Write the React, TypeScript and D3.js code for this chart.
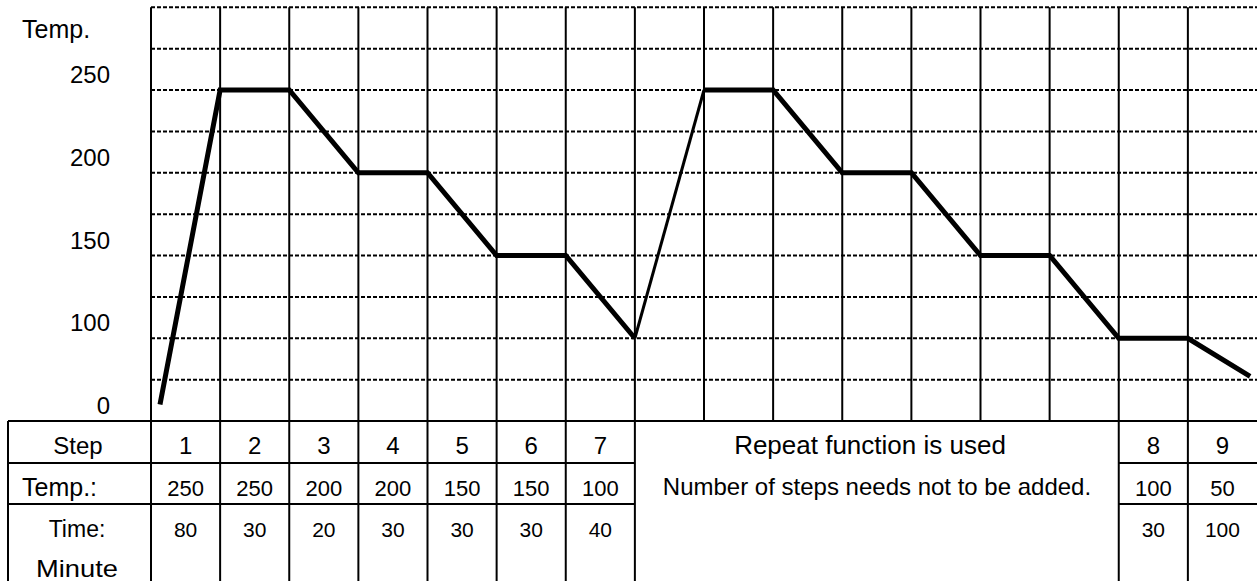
import React from "react";
import * as d3 from "d3";

// ---- data ----
const columnCount = 16;
// profile points: position in grid columns, drawn temperature
const profileCols = [0.13, 1, 2, 3, 4, 5, 6, 7, 8, 9, 10, 11, 12, 13, 14, 15, 15.9];
const profileTemps = [60, 250, 250, 200, 200, 150, 150, 100, 250, 250, 200, 200, 150, 150, 100, 100, 77];
const repeatSegmentStart = 7; // index of point where the thin "repeat" rise starts

const gridTemps = [75, 100, 125, 150, 175, 200, 225, 250, 275, 300];
const tickTemps = [250, 200, 150, 100, 50];
const tickLabels = ["250", "200", "150", "100", "0"];

const stepsLeft = ["1", "2", "3", "4", "5", "6", "7"];
const tempsLeft = ["250", "250", "200", "200", "150", "150", "100"];
const timesLeft = ["80", "30", "20", "30", "30", "30", "40"];
const stepsRight = ["8", "9"];
const tempsRight = ["100", "50"];
const timesRight = ["30", "100"];
const rightStartCol = 14;
const repeatTitle = "Repeat function is used";
const repeatNote = "Number of steps needs not to be added.";
const rowHeaders = ["Step", "Temp.:", "Time:", "Minute"];
const yTitle = "Temp.";

// ---- layout ----
const W = 1257;
const H = 581;
const FONT = "'Liberation Sans', Arial, sans-serif";

export default function App() {
  const x = d3.scaleLinear().domain([0, columnCount]).range([151, 1257]);
  const y = d3.scaleLinear().domain([50, 250]).range([421, 90]);

  const tableTop = y(50);
  const row1 = 463;
  const row2 = 504;
  const tableLeft = 8;

  const pts: [number, number][] = profileCols.map((c, i) => [x(c), y(profileTemps[i])]);
  const line = d3.line<[number, number]>().x((d) => d[0]).y((d) => d[1]);
  const partA = pts.slice(0, repeatSegmentStart + 1);
  const thin = pts.slice(repeatSegmentStart, repeatSegmentStart + 2);
  const partB = pts.slice(repeatSegmentStart + 1);

  const colIdx = d3.range(columnCount + 1);
  const leftCols = stepsLeft.map((_, i) => i);
  const rightCols = stepsRight.map((_, i) => rightStartCol + i);

  const txt = { fontFamily: FONT, fontSize: 23, fill: "#000" } as const;

  const tableVerticals = [0, ...leftCols.map((c) => c + 1), rightStartCol, ...rightCols.map((c) => c + 1)].filter(
    (c) => c < columnCount
  );

  return (
    <div style={{ position: "absolute", left: 0, top: 0 }}>
      <svg width={W} height={H} style={{ display: "block", background: "#fff" }}>
        {/* horizontal dashed grid */}
        {gridTemps.map((t) => (
          <line
            key={"h" + t}
            x1={x(0)}
            x2={x(columnCount)}
            y1={y(t)}
            y2={y(t)}
            stroke="#000"
            strokeWidth={2}
            strokeDasharray="4,2"
          />
        ))}
        {/* vertical grid lines in chart region */}
        {colIdx
          .filter((c) => c < columnCount)
          .map((c) => (
            <line key={"v" + c} x1={x(c)} x2={x(c)} y1={y(300)} y2={tableTop} stroke="#000" strokeWidth={2} />
          ))}
        {/* table lines */}
        <line x1={tableLeft} x2={W} y1={tableTop} y2={tableTop} stroke="#000" strokeWidth={2} />
        {[row1, row2].map((ry) => (
          <g key={"r" + ry}>
            <line x1={tableLeft} x2={x(repeatSegmentStart)} y1={ry} y2={ry} stroke="#000" strokeWidth={2} />
            <line x1={x(rightStartCol)} x2={W} y1={ry} y2={ry} stroke="#000" strokeWidth={2} />
          </g>
        ))}
        <line x1={tableLeft} x2={tableLeft} y1={tableTop} y2={H} stroke="#000" strokeWidth={2} />
        {tableVerticals.map((c) => (
          <line key={"tv" + c} x1={x(c)} x2={x(c)} y1={tableTop} y2={H} stroke="#000" strokeWidth={2} />
        ))}

        {/* profile line */}
        <path d={line(partA) || ""} fill="none" stroke="#000" strokeWidth={5} strokeLinejoin="miter" />
        <path d={line(thin) || ""} fill="none" stroke="#000" strokeWidth={3} />
        <path d={line(partB) || ""} fill="none" stroke="#000" strokeWidth={5} strokeLinejoin="miter" />

        {/* y axis labels */}
        <text x={22} y={38} {...txt} fontSize={25}>
          {yTitle}
        </text>
        {tickTemps.map((t, i) => (
          <text key={"t" + t} x={110} y={y(t) - 7} textAnchor="end" {...txt} fontSize={24}>
            {tickLabels[i]}
          </text>
        ))}

        {/* table header column */}
        <text x={78} y={454} textAnchor="middle" {...txt} fontSize={24}>
          {rowHeaders[0]}
        </text>
        <text x={22} y={496} {...txt} fontSize={25}>
          {rowHeaders[1]}
        </text>
        <text x={77} y={537} textAnchor="middle" {...txt}>
          {rowHeaders[2]}
        </text>
        <text x={77} y={577} textAnchor="middle" {...txt} fontSize={24} textLength={82} lengthAdjust="spacingAndGlyphs">
          {rowHeaders[3]}
        </text>

        {/* left cells */}
        {leftCols.map((c, i) => (
          <g key={"lc" + c}>
            <text x={x(c + 0.5)} y={454} textAnchor="middle" {...txt} fontSize={24}>
              {stepsLeft[i]}
            </text>
            <text x={x(c + 0.5)} y={496} textAnchor="middle" {...txt} fontSize={22}>
              {tempsLeft[i]}
            </text>
            <text x={x(c + 0.5)} y={537} textAnchor="middle" {...txt} fontSize={21}>
              {timesLeft[i]}
            </text>
          </g>
        ))}
        {/* right cells */}
        {rightCols.map((c, i) => (
          <g key={"rc" + c}>
            <text x={x(c + 0.5)} y={454} textAnchor="middle" {...txt} fontSize={24}>
              {stepsRight[i]}
            </text>
            <text x={x(c + 0.5)} y={496} textAnchor="middle" {...txt} fontSize={22}>
              {tempsRight[i]}
            </text>
            <text x={x(c + 0.5)} y={537} textAnchor="middle" {...txt} fontSize={21}>
              {timesRight[i]}
            </text>
          </g>
        ))}
        {/* repeat note */}
        <text x={870} y={454} textAnchor="middle" {...txt} fontSize={26}>
          {repeatTitle}
        </text>
        <text x={877} y={495} textAnchor="middle" {...txt} fontSize={24}>
          {repeatNote}
        </text>
      </svg>
    </div>
  );
}
